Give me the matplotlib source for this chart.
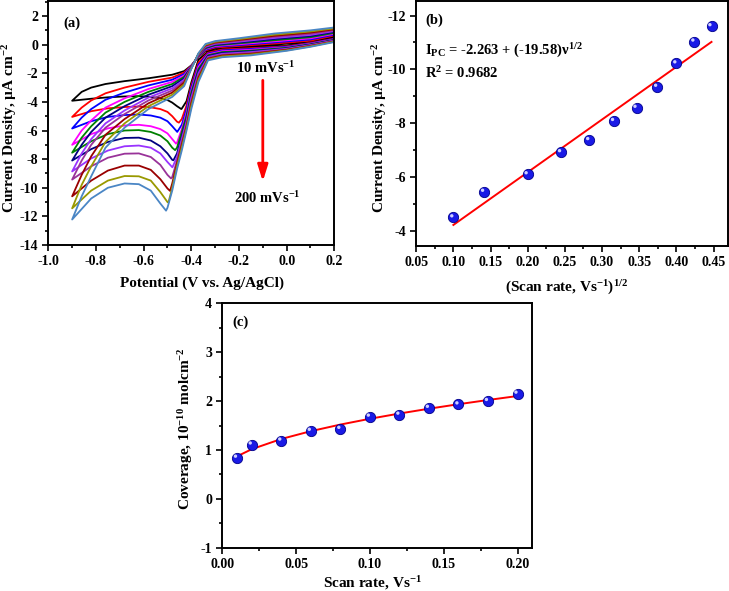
import numpy as np
import matplotlib
matplotlib.use("Agg")
import matplotlib.pyplot as plt
from matplotlib.ticker import MultipleLocator
from matplotlib import transforms

plt.rcParams["font.family"] = ["Liberation Serif", "DejaVu Serif"]
plt.rcParams["font.weight"] = "bold"
plt.rcParams["axes.labelweight"] = "bold"
plt.rcParams["axes.unicode_minus"] = False
plt.rcParams["mathtext.fontset"] = "custom"
plt.rcParams["mathtext.rm"] = "Liberation Serif:bold"
plt.rcParams["mathtext.bf"] = "Liberation Serif:bold"
plt.rcParams["mathtext.it"] = "Liberation Serif:bold"
plt.rcParams["mathtext.default"] = "bf"

# scan rates, V/s (10 ... 200 mV/s)
scan_rates = [0.01, 0.02, 0.04, 0.06, 0.08, 0.10, 0.12, 0.14, 0.16, 0.18, 0.20]
cv_colors = ["#000000", "#ff0000", "#0000ff", "#ff00ff", "#008000", "#000080",
             "#9933ff", "#993399", "#990000", "#999900", "#4a86c5"]

# cathodic peak of each CV (also panel b)
peak_potential = [-0.442, -0.452, -0.459, -0.464, -0.468, -0.475, -0.479, -0.485, -0.489, -0.496, -0.506]
peak_current = [-4.5, -5.45, -6.1, -6.92, -7.37, -8.08, -8.57, -9.35, -10.22, -11.03, -11.6]

# forward (cathodic) sweep 0.2 -> -0.9 V
cath_potential = [0.2, 0.1, 0.0, -0.15, -0.27, -0.33, -0.37, -0.40, -0.42, -0.44,
                  -0.46, -0.48, -0.50, -0.53, -0.57, -0.62, -0.68, -0.75, -0.82, -0.90]
cath_current = [
    [0.45, 0.15, -0.08, -0.2, -0.28, -0.5, -1.05, -2.65, -3.95, -4.47, -4.3, -4.05, -3.87, -3.75, -3.65, -3.6, -3.62, -3.68, -3.78, -3.92],
    [0.42, 0.12, -0.12, -0.25, -0.34, -0.56, -1.25, -2.85, -4.25, -5.2, -5.38, -5.0, -4.7, -4.5, -4.38, -4.32, -4.36, -4.45, -4.65, -5.05],
    [0.40, 0.09, -0.15, -0.3, -0.40, -0.62, -1.4, -3.0, -4.5, -5.6, -6.08, -5.7, -5.35, -5.1, -4.95, -4.88, -4.92, -5.05, -5.35, -5.86],
    [0.37, 0.06, -0.19, -0.36, -0.46, -0.68, -1.55, -3.2, -4.75, -5.9, -6.85, -6.6, -6.2, -5.9, -5.7, -5.6, -5.65, -5.85, -6.25, -7.0],
    [0.34, 0.03, -0.22, -0.42, -0.52, -0.74, -1.7, -3.35, -4.95, -6.1, -7.2, -7.2, -6.75, -6.35, -6.1, -5.97, -6.0, -6.25, -6.75, -7.55],
    [0.32, 0.0, -0.26, -0.47, -0.58, -0.8, -1.85, -3.55, -5.2, -6.4, -7.6, -8.05, -7.6, -7.1, -6.7, -6.5, -6.52, -6.8, -7.3, -8.1],
    [0.29, -0.03, -0.29, -0.52, -0.64, -0.86, -2.0, -3.7, -5.35, -6.6, -7.85, -8.56, -8.2, -7.6, -7.2, -7.05, -7.1, -7.4, -7.95, -8.86],
    [0.26, -0.06, -0.33, -0.58, -0.70, -0.92, -2.15, -3.9, -5.55, -6.8, -8.1, -9.25, -9.1, -8.4, -7.85, -7.6, -7.62, -7.9, -8.5, -9.43],
    [0.23, -0.09, -0.36, -0.64, -0.76, -0.98, -2.3, -4.1, -5.7, -7.0, -8.3, -9.7, -10.05, -9.4, -8.75, -8.45, -8.45, -8.8, -9.5, -10.6],
    [0.21, -0.12, -0.40, -0.69, -0.82, -1.04, -2.45, -4.3, -5.85, -7.2, -8.5, -10.0, -11.0, -10.3, -9.5, -9.2, -9.18, -9.5, -10.2, -11.44],
    [0.18, -0.15, -0.43, -0.75, -0.88, -1.1, -2.6, -4.5, -6.0, -7.4, -8.7, -10.2, -11.4, -11.1, -10.2, -9.75, -9.7, -10.0, -10.75, -12.22],
]

# reverse (anodic) sweep -0.9 -> 0.2 V
anod_potential = [-0.86, -0.82, -0.76, -0.68, -0.58, -0.48, -0.43, -0.40, -0.37, -0.34, -0.30, -0.2, -0.05, 0.1, 0.2]
anod_current = [
    [-3.3, -3.0, -2.75, -2.55, -2.35, -2.1, -1.85, -1.45, -0.85, -0.45, -0.25, -0.15, 0.0, 0.2, 0.58],
    [-4.4, -3.9, -3.4, -3.0, -2.6, -2.3, -1.95, -1.48, -0.83, -0.4, -0.2, -0.09, 0.08, 0.28, 0.64],
    [-5.1, -4.5, -3.85, -3.35, -2.85, -2.45, -2.05, -1.5, -0.8, -0.35, -0.15, -0.03, 0.16, 0.36, 0.7],
    [-6.0, -5.3, -4.4, -3.75, -3.1, -2.6, -2.15, -1.52, -0.78, -0.3, -0.1, 0.03, 0.23, 0.44, 0.76],
    [-6.5, -5.7, -4.75, -4.0, -3.3, -2.75, -2.25, -1.55, -0.75, -0.25, -0.05, 0.09, 0.31, 0.52, 0.82],
    [-7.0, -6.1, -5.1, -4.3, -3.5, -2.9, -2.35, -1.57, -0.73, -0.2, 0.0, 0.15, 0.39, 0.6, 0.89],
    [-7.6, -6.6, -5.5, -4.6, -3.7, -3.05, -2.45, -1.6, -0.7, -0.15, 0.05, 0.21, 0.47, 0.68, 0.95],
    [-8.1, -7.0, -5.8, -4.85, -3.9, -3.2, -2.55, -1.62, -0.68, -0.1, 0.1, 0.27, 0.55, 0.76, 1.01],
    [-9.1, -7.8, -6.3, -5.2, -4.1, -3.35, -2.65, -1.65, -0.65, -0.05, 0.15, 0.33, 0.62, 0.84, 1.07],
    [-9.8, -8.5, -6.8, -5.5, -4.3, -3.5, -2.78, -1.67, -0.63, 0.0, 0.2, 0.39, 0.70, 0.92, 1.14],
    [-10.6, -9.2, -7.2, -5.8, -4.5, -3.65, -2.9, -1.7, -0.6, 0.05, 0.25, 0.45, 0.78, 1.0, 1.2],
]

# panel (b) linear fit, from the figure
fit_intercept = -2.263
fit_slope = -19.58

# panel (c) surface coverage, 10^-10 mol cm^-2
coverage = [0.84, 1.11, 1.19, 1.39, 1.43, 1.68, 1.72, 1.86, 1.93, 2.0, 2.15]

TICK_FS = 10
LABEL_FS = 11
TEXT_FS = 10.5


def style_axes(ax, xmaj, xmin, ymaj, ymin):
    ax.xaxis.set_major_locator(MultipleLocator(xmaj))
    ax.xaxis.set_minor_locator(MultipleLocator(xmin))
    ax.yaxis.set_major_locator(MultipleLocator(ymaj))
    ax.yaxis.set_minor_locator(MultipleLocator(ymin))
    ax.tick_params(which="both", direction="out", top=False, right=False,
                   labelsize=TICK_FS, width=1.2, pad=3)
    ax.tick_params(which="major", length=4.5)
    ax.tick_params(which="minor", length=2.5)
    for s in ax.spines.values():
        s.set_linewidth(1.4)


def set_labels(ax, xlabel, ylabel, xpos, ypos):
    ax.set_xlabel(xlabel, fontsize=LABEL_FS, va="center")
    ax.set_ylabel(ylabel, fontsize=LABEL_FS, va="center")
    ax.xaxis.set_label_coords(*xpos)
    ax.yaxis.set_label_coords(*ypos)


def ball_scatter(ax, fig, x, y):
    ax.scatter(x, y, s=55, color="#1a1ae6", edgecolors="#00008b", linewidths=0.6, zorder=3)
    shift = transforms.offset_copy(ax.transData, fig=fig, x=-1.6, y=1.6, units="dots")
    ax.scatter(x, y, s=6, color="#d0d0ff", edgecolors="none", zorder=4, transform=shift)


W, H = 729, 591
fig = plt.figure(figsize=(W / 100, H / 100), dpi=100)

# (a) cyclic voltammograms
ax1 = fig.add_axes([48.3 / W, 1 - 245 / H, 286 / W, 244 / H])
for i in range(len(scan_rates)):
    e_c = np.array(cath_potential + [peak_potential[i]])
    j_c = np.array(cath_current[i] + [peak_current[i]])
    order = np.argsort(-e_c)
    e = np.concatenate([e_c[order], anod_potential])
    j = np.concatenate([j_c[order], anod_current[i]])
    ax1.plot(e, j, color=cv_colors[i], lw=1.3, solid_joinstyle="round")
ax1.set_xlim(-1.0, 0.2)
ax1.set_ylim(-14, 3.05)
style_axes(ax1, 0.2, 0.1, 2, 1)
set_labels(ax1, "Potential (V vs. Ag/AgCl)", "Current Density, µA cm$^{-2}$",
           (0.537, -0.156), (-0.137, 0.48))
ax1.text(0.051, 0.91, "(a)", transform=ax1.transAxes, fontsize=TEXT_FS, va="center")
ax1.text(-0.09, -1.65, "10 mVs$^{-1}$", fontsize=TEXT_FS, ha="center", va="center")
ax1.text(-0.08, -10.75, "200 mVs$^{-1}$", fontsize=TEXT_FS, ha="center", va="center")
ax1.annotate("", xy=(-0.1, -9.75), xytext=(-0.1, -2.3),
             arrowprops=dict(arrowstyle="-|>,head_length=0.7,head_width=0.22",
                             color="#ff0000", lw=2.0, mutation_scale=14))

# (b) peak current vs square root of scan rate
ax2 = fig.add_axes([416.2 / W, 1 - 245.7 / H, 311.5 / W, 245 / H])
root_rate = np.sqrt(scan_rates)
ax2.plot(root_rate, fit_intercept + fit_slope * root_rate, color="#ff0000", lw=1.4, zorder=2)
ball_scatter(ax2, fig, root_rate, peak_current)
ax2.set_xlim(0.05, 0.469)
ax2.set_ylim(-3.45, -12.55)
style_axes(ax2, 0.05, 0.025, 2, 1)
set_labels(ax2, "(Scan rate, Vs$^{-1}$)$^{1/2}$", "Current Density, µA cm$^{-2}$",
           (0.483, -0.172), (-0.119, 0.479))
ax2.text(0.028, 0.919, "(b)", transform=ax2.transAxes, fontsize=TEXT_FS, va="center")
ax2.text(0.028, 0.797, "I$_{PC}$ = -2.263 + (-19.58)ν$^{1/2}$", transform=ax2.transAxes,
         fontsize=TEXT_FS, va="center")
ax2.text(0.028, 0.703, "R$^2$ = 0.9682", transform=ax2.transAxes, fontsize=TEXT_FS, va="center")

# (c) surface coverage vs scan rate
ax3 = fig.add_axes([222.3 / W, 1 - 547.7 / H, 310 / W, 244.4 / H])
cov_fit = np.polyfit(np.sqrt(scan_rates), coverage, 1)
ax3.plot(scan_rates, np.polyval(cov_fit, np.sqrt(scan_rates)), color="#ff0000", lw=1.4, zorder=2)
ball_scatter(ax3, fig, scan_rates, coverage)
ax3.set_xlim(0.0, 0.21)
ax3.set_ylim(-1, 4)
style_axes(ax3, 0.05, 0.025, 1, 0.5)
set_labels(ax3, "Scan rate, Vs$^{-1}$", "Coverage, 10$^{-10}$ molcm$^{-2}$",
           (0.483, -0.144), (-0.117, 0.488))
ax3.text(0.031, 0.921, "(c)", transform=ax3.transAxes, fontsize=TEXT_FS, va="center")

fig.savefig("out.png", dpi=100)
